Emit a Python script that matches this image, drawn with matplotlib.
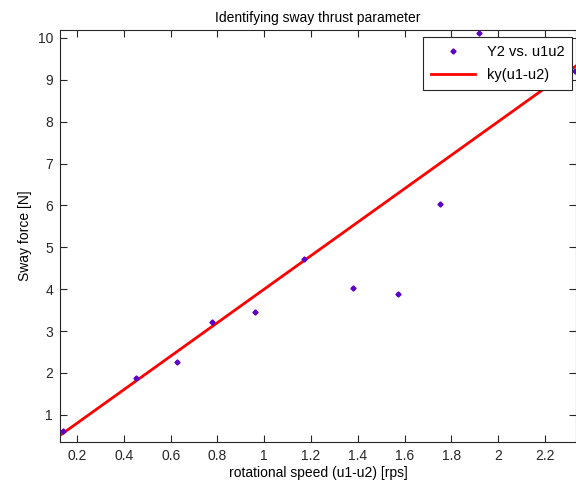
import matplotlib
matplotlib.use("Agg")
import matplotlib.pyplot as plt
import numpy as np

plt.rcParams['font.family'] = ['Liberation Sans', 'DejaVu Sans']

u_diff = [0.14, 0.452, 0.627, 0.777, 0.961, 1.17, 1.38, 1.57, 1.75, 1.918, 2.33]
sway_force = [0.62, 1.89, 2.27, 3.21, 3.45, 4.72, 4.02, 3.88, 6.04, 10.12, 9.2]
k_y = 4.0
fit_x = [0.13, 2.333]

xticks = [0.2, 0.4, 0.6, 0.8, 1, 1.2, 1.4, 1.6, 1.8, 2, 2.2]
xticklabels = ['0.2', '0.4', '0.6', '0.8', '1', '1.2', '1.4', '1.6', '1.8', '2', '2.2']
yticks = list(range(1, 11))

fig = plt.figure(figsize=(5.76, 4.88), dpi=100)
ax = fig.add_axes([60/576, 1-442/488, 516/576, 412/488])

ax.plot(u_diff, sway_force, linestyle='none', marker='D', markersize=2.6,
        color='#5a00c8', label='Y2 vs. u1u2', zorder=3)
fx = np.array(fit_x)
ax.plot(fx, k_y*fx, color='#ff0000', linewidth=2, label='ky(u1-u2)', zorder=2)

ax.set_xlim(0.127, 2.333)
ax.set_ylim(0.35, 10.19)
ax.set_xticks(xticks)
ax.set_xticklabels(xticklabels)
ax.set_yticks(yticks)
ax.tick_params(direction='in', top=True, right=True, length=5, width=0.8,
               labelsize=10, colors='#262626', pad=5)
for s in ax.spines.values():
    s.set_linewidth(0.8)
    s.set_color('#262626')

ax.set_title('Identifying sway thrust parameter', fontsize=10, pad=6)
ax.set_xlabel('rotational speed (u1-u2) [rps]', fontsize=10, labelpad=2)
ax.set_ylabel('Sway force [N]', fontsize=10, labelpad=4)

leg = ax.legend(loc='upper right', bbox_to_anchor=(0.993, 0.983), borderaxespad=0,
                fontsize=10.5, fancybox=False, framealpha=1, edgecolor='#262626',
                borderpad=0.55, handlelength=3.0, labelspacing=0.6)
leg.get_frame().set_linewidth(0.8)
leg.set_zorder(5)

fig.savefig('out.png', dpi=100)
